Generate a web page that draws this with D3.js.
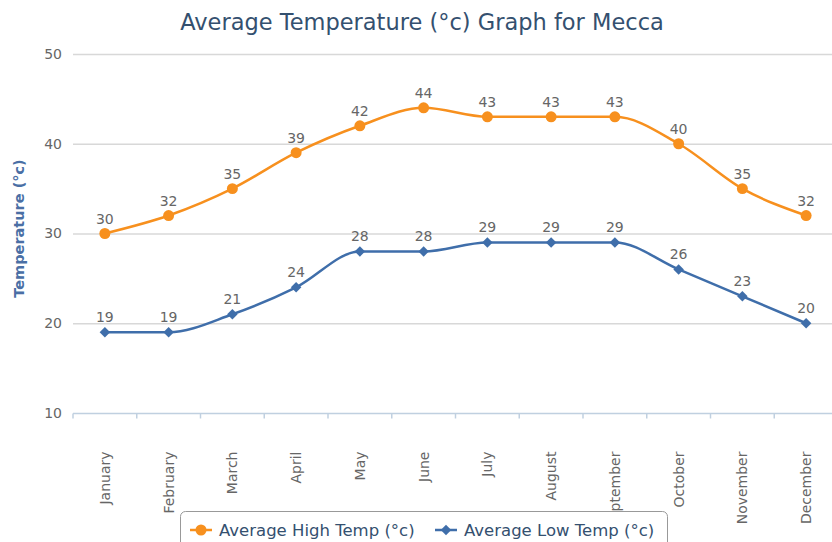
<!DOCTYPE html>
<html>
<head>
<meta charset="utf-8">
<script src="https://cdn.jsdelivr.net/npm/d3@7/dist/d3.min.js"></script>
<style>
  html, body { margin: 0; padding: 0; background: #fff; }
  svg { display: block; }
  text { font-family: "DejaVu Sans", "Open Sans", sans-serif; }
</style>
</head>
<body>
<svg id="chart" width="832" height="542"></svg>
<script>
// Monthly averages for Mecca
const months = ["January", "February", "March", "April", "May", "June",
  "July", "August", "September", "October", "November", "December"];
const highTemps = [30, 32, 35, 39, 42, 44, 43, 43, 43, 40, 35, 32];
const lowTemps  = [19, 19, 21, 24, 28, 28, 29, 29, 29, 26, 23, 20];
const yTicks = [10, 20, 30, 40, 50];
const seriesNames = ["Average High Temp (°c)", "Average Low Temp (°c)"];

const svg = d3.select("#chart");
const plot = { left: 73, right: 838, top: 54, bottom: 413 };

const x = d3.scaleBand().domain(months).range([plot.left, plot.right]);
const y = d3.scaleLinear().domain([10, 50]).range([plot.bottom, plot.top]);
const cx = m => x(m) + x.bandwidth() / 2;

// Title
svg.append("text")
  .attr("x", 422).attr("y", 30)
  .attr("text-anchor", "middle")
  .attr("fill", "#34506f")
  .style("font-size", "22.5px")
  .text("Average Temperature (°c) Graph for Mecca");

// Horizontal grid lines
svg.append("g")
  .selectAll("line")
  .data(yTicks.filter(t => t !== 10))
  .join("line")
  .attr("x1", plot.left).attr("x2", 832)
  .attr("y1", d => y(d) + 0.5).attr("y2", d => y(d) + 0.5)
  .attr("stroke", "#d8d8d8").attr("stroke-width", 1.5);

// Y axis labels
const yAxis = d3.axisLeft(y).tickValues(yTicks).tickSize(0).tickPadding(11);
const gy = svg.append("g").attr("transform", `translate(${plot.left},0)`).call(yAxis);
gy.select(".domain").remove();
gy.selectAll("text")
  .attr("fill", "#666")
  .style("font-size", "14px")
  .style("font-family", "'DejaVu Sans', sans-serif");

// Y axis title
svg.append("text")
  .attr("transform", `translate(24,${(plot.top + plot.bottom) / 2 - 5}) rotate(-90)`)
  .attr("text-anchor", "middle")
  .attr("fill", "#4a6fa5")
  .style("font-size", "14.5px")
  .style("font-weight", "bold")
  .text("Temperature (°c)");

// X axis with tick marks at band edges
const gx = svg.append("g").attr("transform", `translate(0,${plot.bottom + 0.5})`);
gx.append("line")
  .attr("x1", plot.left).attr("x2", 832)
  .attr("stroke", "#c0d0e0").attr("stroke-width", 1.5);
gx.selectAll("line.tick")
  .data(months)
  .join("line")
  .attr("class", "tick")
  .attr("x1", d => x(d)).attr("x2", d => x(d))
  .attr("y1", 0).attr("y2", 5)
  .attr("stroke", "#c0d0e0").attr("stroke-width", 1.5);
gx.selectAll("text")
  .data(months)
  .join("text")
  .attr("transform", d => `translate(${cx(d) + 5},38) rotate(-90)`)
  .attr("text-anchor", "end")
  .attr("fill", "#666")
  .style("font-size", "14px")
  .text(d => d);

const line = d3.line()
  .x((d, i) => cx(months[i]))
  .y(d => y(d))
  .curve(d3.curveMonotoneX);

const series = [
  { name: seriesNames[0], values: highTemps, color: "#f7901e", marker: "circle" },
  { name: seriesNames[1], values: lowTemps,  color: "#3f6eaa", marker: "diamond" }
];

const markerPath = (type, size) =>
  d3.symbol().type(type === "circle" ? d3.symbolCircle : d3.symbolDiamond2).size(size)();

series.forEach(s => {
  const g = svg.append("g");
  g.append("path")
    .attr("d", line(s.values))
    .attr("fill", "none")
    .attr("stroke", s.color)
    .attr("stroke-width", 2.5);
  g.selectAll("path.marker")
    .data(s.values)
    .join("path")
    .attr("class", "marker")
    .attr("transform", (d, i) => `translate(${cx(months[i])},${y(d)})`)
    .attr("d", markerPath(s.marker, s.marker === "circle" ? 95 : 70))
    .attr("fill", s.color);
  g.selectAll("text")
    .data(s.values)
    .join("text")
    .attr("x", (d, i) => cx(months[i]))
    .attr("y", d => y(d) - 10)
    .attr("text-anchor", "middle")
    .attr("fill", "#666")
    .style("font-size", "14px")
    .text(d => d);
});

// Legend
const legend = svg.append("g");
legend.append("rect")
  .attr("x", 180.5).attr("y", 511.5)
  .attr("width", 487).attr("height", 40)
  .attr("rx", 5).attr("ry", 5)
  .attr("fill", "#fff")
  .attr("stroke", "#999").attr("stroke-width", 1);
const legendX = [190, 435];
series.forEach((s, i) => {
  const lx = legendX[i];
  legend.append("line")
    .attr("x1", lx).attr("x2", lx + 22)
    .attr("y1", 530).attr("y2", 530)
    .attr("stroke", s.color).attr("stroke-width", 2.5);
  legend.append("path")
    .attr("transform", `translate(${lx + 11},530)`)
    .attr("d", markerPath(s.marker, s.marker === "circle" ? 95 : 70))
    .attr("fill", s.color);
  legend.append("text")
    .attr("x", lx + 29).attr("y", 536)
    .attr("fill", "#34506f")
    .style("font-size", "16.5px")
    .text(s.name);
});
</script>
</body>
</html>
